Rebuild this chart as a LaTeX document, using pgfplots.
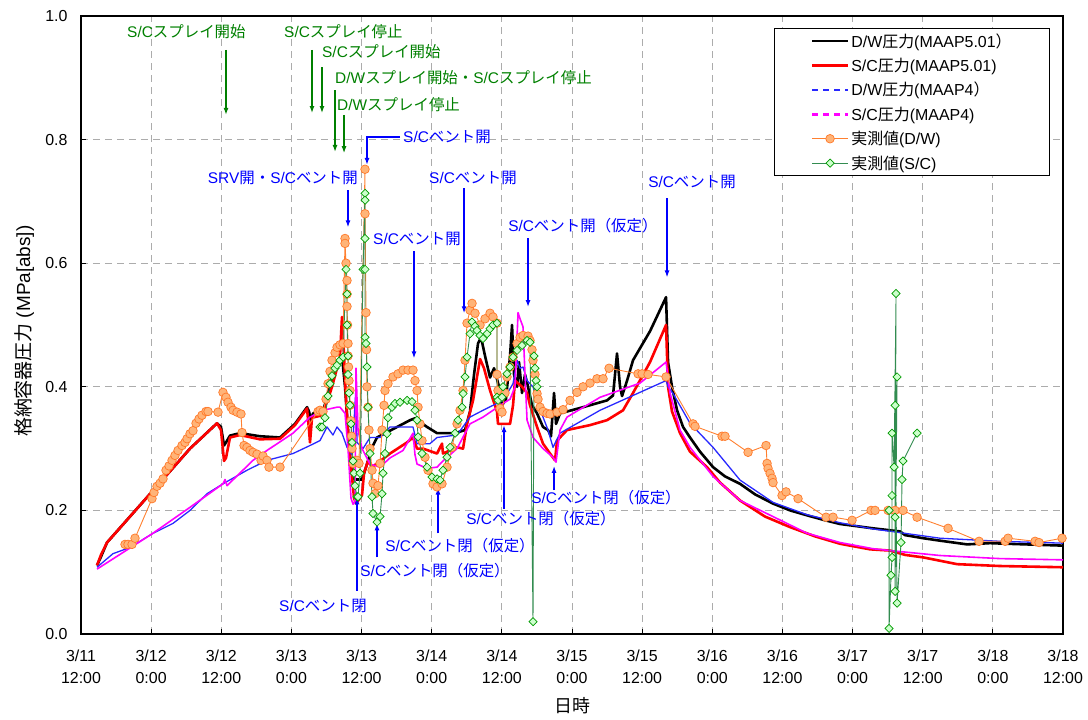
\documentclass[border=0pt]{standalone}
\usepackage{fontspec}
\setmainfont{Liberation Sans}
\newfontfamily\jp{Noto Sans CJK JP}
\usepackage{pgfplots}
\pgfplotsset{compat=1.18}
\usetikzlibrary{arrows.meta}
\definecolor{jgreen}{RGB}{0,128,0}
\definecolor{jblue}{RGB}{0,0,255}
\definecolor{orfill}{RGB}{255,180,120}
\definecolor{oredge}{RGB}{255,120,40}
\definecolor{orline}{RGB}{255,128,48}
\definecolor{gnfill}{RGB}{204,255,204}
\definecolor{gnedge}{RGB}{0,153,0}
\definecolor{gnline}{RGB}{50,140,80}
\definecolor{mblue}{RGB}{40,40,255}
\definecolor{mmag}{RGB}{255,0,255}
\newcommand\annfont{\fontsize{15.5}{18}\selectfont}
\begin{document}
\begin{tikzpicture}
\begin{axis}[
 scale only axis, width=982bp, height=618bp,
 xmin=12, xmax=180, ymin=0, ymax=1,
 xtick={12,24,...,180},
 xticklabels={{3/11\\12:00},{3/12\\0:00},{3/12\\12:00},{3/13\\0:00},{3/13\\12:00},{3/14\\0:00},{3/14\\12:00},{3/15\\0:00},{3/15\\12:00},{3/16\\0:00},{3/16\\12:00},{3/17\\0:00},{3/17\\12:00},{3/18\\0:00},{3/18\\12:00}},
 ytick={0,0.2,0.4,0.6,0.8,1.0},
 yticklabels={0.0,0.2,0.4,0.6,0.8,1.0},
 tick pos=left,
 tick label style={font=\fontsize{16}{23}\selectfont},
 xticklabel style={align=center, yshift=-12bp},
 yticklabel style={xshift=-10bp},
 major tick length=5bp,
 tick style={black, line width=0.9bp},
 grid=major,
 grid style={dash pattern=on 7bp off 5bp, color=gray!65, line width=0.9bp},
 axis line style={line width=1.1bp, black},
 xlabel={{\jp 日時}},
 ylabel={{\jp 格納容器圧力} (MPa[abs])},
 every axis x label/.style={at={(axis description cs:0.5,-0.1165)}, anchor=center, font=\fontsize{18}{20}\selectfont},
 every axis y label/.style={at={(axis description cs:-0.058,0.49)}, rotate=90, anchor=center, font=\fontsize{19}{22}\selectfont},
 legend style={at={(axis description cs:0.9868,0.9806)}, anchor=north east, draw=black, line width=0.8bp, fill=white, font=\fontsize{16}{19}\selectfont, inner xsep=36bp, inner ysep=3bp, row sep=5.5bp},
 legend cell align=left,
 legend image code/.code={\draw[mark repeat=2,mark phase=2,#1] plot coordinates {(0bp,0bp) (18bp,0bp) (36bp,0bp)};},
 unbounded coords=jump,
]
% D/W MAAP5.01
\addplot[black, line width=2.6bp, mark=none, line join=round] coordinates {
(14.74,0.111)(15.42,0.125)(16.45,0.148)(20.38,0.19)(25.52,0.245)(30.65,0.30)(35.27,0.341)(35.95,0.335)(36.47,0.305)(36.81,0.31)(37.49,0.321)(39.2,0.325)(42.62,0.320)(46.05,0.318)(48.61,0.340)(50.67,0.367)(51.01,0.36)(51.35,0.345)(51.69,0.357)(53.4,0.36)(54.26,0.39)(55.11,0.42)(55.97,0.44)(56.65,0.45)(57.17,0.40)(57.68,0.33)(58.19,0.27)(58.71,0.25)(60.08,0.25)(60.76,0.27)(61.79,0.302)(62.64,0.318)(64.87,0.329)(68.29,0.346)(69.14,0.349)(71.2,0.335)(72.91,0.325)(75.99,0.325)(77.7,0.33)(78.55,0.36)(79.24,0.42)(79.92,0.47)(80.44,0.48)(81.12,0.45)(81.98,0.415)(82.66,0.43)(83.52,0.40)(84.03,0.37)(84.71,0.38)(85.4,0.45)(85.74,0.50)(86.08,0.42)(86.6,0.40)(86.94,0.44)(87.45,0.39)(87.96,0.42)(88.48,0.40)(89.16,0.37)(90.02,0.357)(91.04,0.335)(91.9,0.33)(92.41,0.32)(92.93,0.39)(93.27,0.34)(93.95,0.357)(97.89,0.367)(101.99,0.378)(103.02,0.386)(103.7,0.454)(104.22,0.40)(104.56,0.385)(105.42,0.41)(106.44,0.443)(109.35,0.49)(112.09,0.545)(112.43,0.44)(113.11,0.40)(113.97,0.362)(115.0,0.335)(116.19,0.318)(117.9,0.295)(120.13,0.27)(122.18,0.255)(124.75,0.243)(127.31,0.226)(130.39,0.211)(133.3,0.20)(136.21,0.192)(139.29,0.184)(141.86,0.178)(147.5,0.171)(152.12,0.166)(152.98,0.160)(156.06,0.155)(158.97,0.151)(163.59,0.145)(167.52,0.147)(170.43,0.146)(180,0.143)};
\addlegendentry{D/W{\jp 圧力}(MAAP5.01{\jp ）}}
% S/C MAAP5.01
\addplot[red, line width=2.6bp, mark=none, line join=round] coordinates {
(14.74,0.111)(15.42,0.128)(16.45,0.148)(20.38,0.19)(25.52,0.245)(30.65,0.30)(35.27,0.341)(35.95,0.33)(36.47,0.28)(36.81,0.285)(37.49,0.318)(39.2,0.322)(42.62,0.315)(46.05,0.316)(48.61,0.338)(50.67,0.365)(51.01,0.33)(51.18,0.31)(51.52,0.35)(52.89,0.353)(53.4,0.36)(54.26,0.38)(54.94,0.40)(55.8,0.43)(56.31,0.45)(56.65,0.513)(57.0,0.45)(57.34,0.38)(57.68,0.33)(58.02,0.29)(58.37,0.254)(58.71,0.22)(59.05,0.211)(59.73,0.22)(60.08,0.225)(60.42,0.26)(61.1,0.28)(61.79,0.27)(62.64,0.276)(64.87,0.292)(67.78,0.31)(68.8,0.318)(69.49,0.30)(70.51,0.30)(72.91,0.292)(73.76,0.308)(73.93,0.292)(76.33,0.302)(77.36,0.30)(78.04,0.34)(79.07,0.378)(80.27,0.445)(80.95,0.43)(81.98,0.394)(83.17,0.36)(83.34,0.34)(85.4,0.34)(85.91,0.37)(86.25,0.41)(87.45,0.40)(88.31,0.39)(88.82,0.37)(90.02,0.335)(91.04,0.308)(92.24,0.292)(93.1,0.281)(93.44,0.313)(95.15,0.33)(99.08,0.338)(101.99,0.346)(104.73,0.362)(106.44,0.39)(109.35,0.44)(112.09,0.50)(112.43,0.40)(113.11,0.36)(114.48,0.325)(116.19,0.295)(119.1,0.27)(121.33,0.245)(124.75,0.216)(129.03,0.19)(133.3,0.173)(137.58,0.158)(141.86,0.146)(146.99,0.137)(150.41,0.135)(152.98,0.128)(156.06,0.124)(161.87,0.113)(169.23,0.110)(180,0.108)};
\addlegendentry{S/C{\jp 圧力}(MAAP5.01)}
% D/W MAAP4
\addplot[mblue, line width=1.3bp, mark=none, line join=round, legend image post style={dash pattern=on 6bp off 5bp, line width=2bp}] coordinates {
(14.74,0.108)(17.47,0.13)(20.38,0.14)(24.15,0.162)(27.74,0.179)(30.65,0.20)(33.56,0.227)(36.29,0.243)(40.4,0.265)(43.82,0.281)(48.27,0.292)(51.18,0.305)(52.89,0.313)(54.09,0.335)(55.11,0.322)(55.8,0.335)(56.65,0.325)(57.51,0.302)(58.37,0.29)(59.05,0.40)(59.22,0.31)(60.25,0.30)(61.45,0.318)(63.16,0.318)(64.87,0.335)(68.8,0.335)(69.49,0.308)(71.71,0.308)(72.91,0.318)(76.33,0.322)(78.55,0.351)(80.78,0.362)(84.2,0.378)(85.91,0.405)(86.6,0.443)(87.11,0.43)(87.62,0.432)(88.31,0.41)(89.33,0.40)(90.53,0.367)(91.04,0.351)(91.9,0.33)(92.75,0.302)(93.95,0.325)(100.8,0.362)(112.09,0.41)(112.43,0.40)(113.29,0.389)(116.19,0.341)(120.13,0.302)(124.75,0.249)(130.39,0.213)(136.21,0.193)(141.86,0.180)(147.5,0.170)(152.12,0.164)(158.97,0.155)(169.23,0.150)(180,0.147)};
\addlegendentry{D/W{\jp 圧力}(MAAP4{\jp ）}}
% S/C MAAP4
\addplot[mmag, line width=1.6bp, mark=none, line join=round, legend image post style={dash pattern=on 6bp off 5bp, line width=2.6bp}] coordinates {
(14.74,0.105)(24.15,0.162)(30.65,0.205)(36.29,0.243)(36.64,0.25)(36.98,0.24)(41.43,0.281)(43.82,0.297)(48.27,0.325)(51.18,0.351)(53.4,0.362)(55.8,0.367)(56.31,0.367)(57.17,0.357)(57.68,0.30)(58.19,0.22)(58.54,0.21)(58.88,0.215)(59.05,0.43)(59.39,0.33)(60.08,0.30)(61.45,0.275)(63.16,0.27)(64.87,0.285)(67.09,0.297)(68.8,0.325)(69.14,0.29)(69.49,0.275)(71.2,0.268)(72.91,0.27)(73.93,0.28)(76.33,0.30)(78.55,0.34)(80.78,0.351)(84.2,0.373)(85.4,0.38)(86.25,0.40)(86.77,0.52)(87.11,0.51)(87.62,0.497)(87.96,0.42)(88.31,0.346)(89.33,0.318)(91.04,0.30)(92.75,0.286)(93.27,0.278)(93.95,0.33)(95.15,0.351)(100.8,0.383)(107.64,0.406)(112.09,0.44)(112.77,0.39)(114.48,0.33)(116.19,0.302)(120.13,0.255)(124.75,0.216)(130.39,0.19)(136.21,0.163)(141.86,0.148)(147.5,0.138)(150.41,0.135)(158.97,0.127)(169.23,0.122)(180,0.12)};
\addlegendentry{S/C{\jp 圧力}(MAAP4)}
% measured D/W
\addplot[orline, line width=0.9bp, mark=*, mark size=4.3bp, mark options={fill=orfill, draw=oredge, line width=0.7bp}] coordinates {
(19.53,0.145)(20.04,0.145)(20.73,0.145)(21.24,0.155)(24.15,0.219)(24.49,0.229)(25.0,0.239)(25.52,0.244)(26.03,0.251)(26.54,0.265)(27.06,0.272)(27.57,0.281)(28.08,0.289)(28.6,0.297)(29.28,0.305)(29.79,0.31)(30.14,0.316)(30.65,0.324)(31.16,0.329)(31.68,0.341)(32.19,0.348)(32.7,0.354)(33.39,0.36)(33.73,0.36)(35.44,0.359)(36.29,0.391)(36.81,0.383)(37.15,0.375)(37.66,0.367)(38.01,0.362)(38.69,0.359)(39.37,0.356)(39.55,0.326)(39.89,0.305)(40.4,0.302)(40.91,0.297)(41.43,0.294)(42.11,0.291)(42.8,0.281)(43.14,0.288)(43.82,0.281)(44.16,0.27)(46.05,0.27)
(52.55,0.36)(52.89,0.362)(53.4,0.36)(53.92,0.38)(54.26,0.405)(54.6,0.425)(54.94,0.443)(55.46,0.455)(55.8,0.464)(56.31,0.468)(56.83,0.47)(57.17,0.64)(57.17,0.632)(57.34,0.60)(57.51,0.572)(57.51,0.55)(57.51,0.53)(57.6,0.50)(57.68,0.47)(57.68,0.45)(57.77,0.432)(57.85,0.41)(58.02,0.394)(58.02,0.37)(58.19,0.345)(58.28,0.32)(58.37,0.30)(58.54,0.276)(58.88,0.28)(59.22,0.281)(59.56,0.276)
(60.59,0.752)(60.59,0.68)(60.76,0.52)(60.85,0.46)(60.93,0.40)(61.1,0.367)(61.27,0.33)(61.45,0.30)(61.79,0.265)(61.96,0.244)(62.3,0.227)(62.81,0.24)(63.16,0.276)(63.5,0.33)(63.84,0.37)(64.01,0.394)(64.52,0.405)(65.38,0.416)(66.24,0.421)(67.09,0.427)(67.95,0.427)(68.8,0.427)(69.14,0.41)(69.49,0.394)(69.66,0.367)(70.0,0.34)(70.34,0.313)(70.85,0.286)(71.37,0.265)(72.22,0.243)(72.91,0.238)(73.76,0.243)(74.62,0.27)(75.47,0.302)(76.33,0.34)(76.84,0.362)(77.36,0.394)(77.7,0.443)(78.04,0.503)(78.55,0.524)(78.9,0.535)(79.41,0.519)(80.27,0.50)(81.12,0.51)(81.98,0.519)(82.49,0.513)(83.17,0.503)(83.17,0.42)(83.34,0.394)(83.69,0.365)(84.03,0.359)(84.54,0.39)(84.88,0.416)(85.4,0.432)(85.91,0.448)(86.6,0.47)(87.11,0.48)(87.62,0.483)(88.48,0.482)(88.82,0.475)(89.16,0.46)(89.33,0.443)(89.67,0.42)(90.02,0.389)(90.19,0.38)(90.53,0.367)(91.04,0.36)(91.73,0.357)(92.24,0.356)(93.44,0.359)(94.47,0.363)(95.66,0.378)(96.86,0.391)(97.89,0.40)(99.08,0.406)(100.28,0.413)(101.31,0.413)(102.34,0.43)
(107.3,0.421)(107.98,0.421)(109.01,0.42)(112.09,0.416)(116.71,0.34)(117.05,0.336)(121.67,0.32)(122.18,0.32)(126.12,0.294)(129.2,0.305)(129.37,0.276)(129.54,0.268)(129.88,0.26)(130.22,0.252)(130.39,0.245)(131.93,0.224)(132.62,0.23)(134.67,0.219)(139.46,0.189)(140.66,0.189)(143.91,0.184)(147.16,0.20)(147.85,0.20)(150.07,0.20)(151.27,0.20)(152.64,0.20)(155.03,0.189)(160.34,0.171)(165.64,0.15)(170.09,0.15)(170.6,0.155)(175.22,0.15)(175.9,0.148)(179.84,0.155)};
\addlegendentry{{\jp 実測値}(D/W)}
% measured S/C
\addplot[gnline, line width=0.9bp, mark=square*, mark size=2.9bp, mark options={rotate=45, fill=gnfill, draw=gnedge, line width=0.7bp}] coordinates {
(52.89,0.335)(53.23,0.335)(53.75,0.35)(54.26,0.385)(54.6,0.405)(54.94,0.418)(55.46,0.43)(55.8,0.435)(56.31,0.443)(56.83,0.448)(57.34,0.59)(57.51,0.55)(57.51,0.50)(57.68,0.45)(57.68,0.42)(57.85,0.39)(58.02,0.37)(58.19,0.34)(58.37,0.31)(58.54,0.28)(58.71,0.26)(58.88,0.24)(59.22,0.222)(59.39,0.222)(59.73,0.26)(60.25,0.59)(60.59,0.713)(60.59,0.702)(60.59,0.64)(60.59,0.59)(60.59,0.48)(60.76,0.47)(60.93,0.432)(61.1,0.367)(61.45,0.292)(61.79,0.222)(61.96,0.195)(62.64,0.181)(63.16,0.19)(63.5,0.227)(63.67,0.26)(64.01,0.292)(64.35,0.324)(64.52,0.35)(65.21,0.367)(65.72,0.373)(66.58,0.375)(67.78,0.378)(68.63,0.376)(69.14,0.362)(69.49,0.346)(69.66,0.319)(70.34,0.292)(71.2,0.27)(72.05,0.254)(72.91,0.251)(73.42,0.249)(73.93,0.265)(74.62,0.286)(75.13,0.302)(75.99,0.325)(76.5,0.346)(77.19,0.367)(77.36,0.389)(77.7,0.416)(78.04,0.448)(78.55,0.486)(78.9,0.505)(79.41,0.498)(79.75,0.491)(80.27,0.483)(80.78,0.478)(81.46,0.486)(81.98,0.494)(82.49,0.50)(83.17,0.503)(83.17,0.383)(83.34,0.378)(84.03,0.383)(84.2,0.40)(84.88,0.421)(85.4,0.432)(85.91,0.448)(86.6,0.459)(87.45,0.467)(88.31,0.475)(88.82,0.472)(89.33,0.02)(89.5,0.45)(89.67,0.43)(89.85,0.41)(90.02,0.40)
(120,nan)
(150.24,0.20)(150.24,0.009)(150.58,0.095)(150.75,0.124)(150.75,0.224)(150.75,0.325)(151.1,0.27)(151.44,0.551)(151.27,0.189)(151.61,0.416)(151.27,0.069)(151.27,0.37)(151.61,0.05)(152.29,0.148)(152.46,0.25)(152.64,0.28)(155.03,0.325)};
\addlegendentry{{\jp 実測値}(S/C)}
% annotations
\tikzset{garr/.style={jgreen, line width=1.3bp, -{Latex[length=7bp,width=5bp]}}, barr/.style={jblue, line width=1.3bp, -{Latex[length=7bp,width=5bp]}}}
\node[anchor=west, inner sep=0pt, text=jgreen, font=\annfont] at (axis cs:19.87,0.974) {S/C{\jp スプレイ開始}};
\draw[garr] (axis cs:36.81,0.945) -- (axis cs:36.81,0.840);
\node[anchor=west, inner sep=0pt, text=jgreen, font=\annfont] at (axis cs:46.73,0.974) {S/C{\jp スプレイ停止}};
\draw[garr] (axis cs:51.52,0.945) -- (axis cs:51.52,0.843);
\node[anchor=west, inner sep=0pt, text=jgreen, font=\annfont] at (axis cs:53.23,0.942) {S/C{\jp スプレイ開始}};
\draw[garr] (axis cs:53.23,0.917) -- (axis cs:53.23,0.843);
\node[anchor=west, inner sep=0pt, text=jgreen, font=\annfont] at (axis cs:55.46,0.900) {D/W{\jp スプレイ開始・}S/C{\jp スプレイ停止}};
\draw[garr] (axis cs:55.46,0.880) -- (axis cs:55.46,0.780);
\node[anchor=west, inner sep=0pt, text=jgreen, font=\annfont] at (axis cs:55.80,0.856) {D/W{\jp スプレイ停止}};
\draw[garr] (axis cs:57.0,0.840) -- (axis cs:57.0,0.778);
\node[anchor=west, inner sep=0pt, text=jblue, font=\annfont] at (axis cs:67.09,0.804) {S/C{\jp ベント開}};
\draw[barr] (axis cs:66.58,0.804) -- (axis cs:60.93,0.804) -- (axis cs:60.93,0.759);
\node[anchor=east, inner sep=0pt, text=jblue, font=\annfont] at (axis cs:59.39,0.738) {SRV{\jp 開・}S/C{\jp ベント開}};
\draw[barr] (axis cs:57.68,0.718) -- (axis cs:57.68,0.658);
\node[anchor=west, inner sep=0pt, text=jblue, font=\annfont] at (axis cs:61.96,0.640) {S/C{\jp ベント開}};
\draw[barr] (axis cs:68.97,0.619) -- (axis cs:68.97,0.446);
\node[anchor=west, inner sep=0pt, text=jblue, font=\annfont] at (axis cs:71.54,0.738) {S/C{\jp ベント開}};
\draw[barr] (axis cs:77.53,0.721) -- (axis cs:77.53,0.519);
\node[anchor=west, inner sep=0pt, text=jblue, font=\annfont] at (axis cs:85.06,0.661) {S/C{\jp ベント開（仮定）}};
\draw[barr] (axis cs:88.48,0.640) -- (axis cs:88.48,0.529);
\node[anchor=west, inner sep=0pt, text=jblue, font=\annfont] at (axis cs:109.01,0.731) {S/C{\jp ベント開}};
\draw[barr] (axis cs:112.26,0.705) -- (axis cs:112.26,0.577);
\node[anchor=center, inner sep=0pt, text=jblue, font=\annfont] at (axis cs:53.4,0.046) {S/C{\jp ベント閉}};
\draw[barr] (axis cs:59.22,0.070) -- (axis cs:59.22,0.221);
\node[anchor=center, inner sep=0pt, text=jblue, font=\annfont] at (axis cs:72.57,0.103) {S/C{\jp ベント閉（仮定）}};
\draw[barr] (axis cs:62.64,0.124) -- (axis cs:62.64,0.179);
\node[anchor=center, inner sep=0pt, text=jblue, font=\annfont] at (axis cs:76.84,0.143) {S/C{\jp ベント閉（仮定）}};
\draw[barr] (axis cs:73.08,0.163) -- (axis cs:73.08,0.237);
\node[anchor=center, inner sep=0pt, text=jblue, font=\annfont] at (axis cs:90.7,0.187) {S/C{\jp ベント閉（仮定）}};
\draw[barr] (axis cs:84.37,0.203) -- (axis cs:84.37,0.338);
\node[anchor=center, inner sep=0pt, text=jblue, font=\annfont] at (axis cs:101.82,0.221) {S/C{\jp ベント閉（仮定）}};
\draw[barr] (axis cs:92.93,0.233) -- (axis cs:92.93,0.272);
\end{axis}
\pgfresetboundingbox
\path[use as bounding box] (-81bp,-86bp) rectangle (1007bp,634bp);
\end{tikzpicture}
\end{document}
